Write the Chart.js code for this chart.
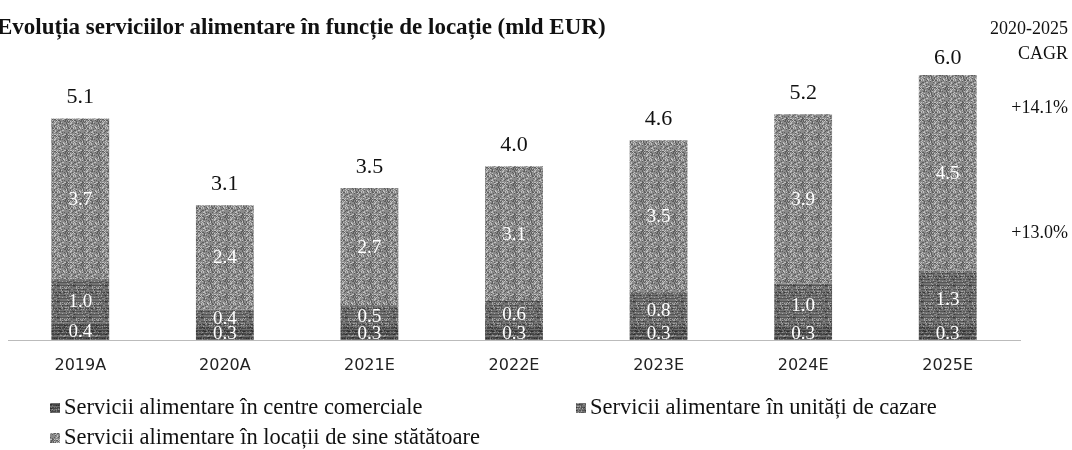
<!DOCTYPE html>
<html>
<head>
<meta charset="utf-8">
<script src="https://cdn.jsdelivr.net/npm/chart.js@4.4.1/dist/chart.umd.min.js"></script>
<style>
  body { margin: 0; background: #fff; }
  #wrap { position: relative; width: 1072px; height: 450px; overflow: hidden;
          font-family: "Liberation Serif", "Times New Roman", serif; color: #111; }
  #c { position: absolute; left: 0; top: 0; }
  .t { position: absolute; white-space: nowrap; line-height: 1; }
  #title { left: -3px; top: 15px; font-weight: bold; font-size: 23px; }
  .cagr { right: 4px; font-size: 18px; text-align: right; line-height: 25px; }
  .leg { font-size: 22.5px; }
  .mk { display: inline-block; width: 10px; height: 10px; margin-right: 4px; vertical-align: 1px; }
</style>
</head>
<body>
<div id="wrap">
  <canvas id="c" width="1072" height="450"></canvas>
  <div class="t" id="title">Evoluția serviciilor alimentare în funcție de locație (mld EUR)</div>
  <div class="t cagr" style="top:16px">2020-2025<br>CAGR</div>
  <div class="t cagr" style="top:95px">+14.1%</div>
  <div class="t cagr" style="top:220px">+13.0%</div>
  <div class="t leg" style="left:50px;top:396px"><span class="mk" id="mk0"></span>Servicii alimentare în centre comerciale</div>
  <div class="t leg" style="left:576px;top:396px"><span class="mk" id="mk1"></span>Servicii alimentare în unități de cazare</div>
  <div class="t leg" style="left:50px;top:426px"><span class="mk" id="mk2"></span>Servicii alimentare în locații de sine stătătoare</div>
</div>
<script>
// data
const years = ['2019A', '2020A', '2021E', '2022E', '2023E', '2024E', '2025E'];
const centreComerciale = [0.4, 0.3, 0.3, 0.3, 0.3, 0.3, 0.3];
const unitatiCazare = [1.0, 0.4, 0.5, 0.6, 0.8, 1.0, 1.3];
const sineStatatoare = [3.7, 2.4, 2.7, 3.1, 3.5, 3.9, 4.5];
const totals = [5.1, 3.1, 3.5, 4.0, 4.6, 5.2, 6.0];

// grey dithered textures, like the scanned original (fixed hash, no randomness)
function hash(x, y) {
  let h = (x * 374761393 + y * 668265263) | 0;
  h = (h ^ (h >>> 13)) * 1274126177 | 0;
  return ((h ^ (h >>> 16)) >>> 0) % 100;
}
function makeTile(kind) {
  const n = 16;
  const t = document.createElement('canvas');
  t.width = n; t.height = n;
  const g = t.getContext('2d');
  for (let y = 0; y < n; y++) {
    for (let x = 0; x < n; x++) {
      const r = hash(x + kind * 31, y + kind * 17);
      let v;
      if (kind == 0) {        // dark, grid-like
        v = (y % 3 == 0) ? 110 : 70;
        v += r < 20 ? 40 : (r > 85 ? -25 : 0);
      } else if (kind == 1) { // darker, line-like
        v = (y % 3 == 1) ? 85 : 115;
        v += r < 15 ? 50 : (r > 80 ? -30 : 0);
      } else {                // medium speckle
        v = 138 + (r < 18 ? 55 : (r > 78 ? -45 : 0));
      }
      g.fillStyle = 'rgb(' + v + ',' + v + ',' + v + ')';
      g.fillRect(x, y, 1, 1);
    }
  }
  return t;
}
const ctx = document.getElementById('c').getContext('2d');
const tiles = [makeTile(0), makeTile(1), makeTile(2)];
const fills = tiles.map(t => ctx.createPattern(t, 'repeat'));
tiles.forEach((t, i) => {
  document.getElementById('mk' + i).style.background = 'url(' + t.toDataURL() + ')';
});

const valueLabels = {
  id: 'valueLabels',
  afterDatasetsDraw(chart) {
    const c = chart.ctx;
    c.save();
    c.textAlign = 'center';
    c.textBaseline = 'middle';
    c.font = '19px "Liberation Serif"';
    c.fillStyle = '#fff';
    chart.data.datasets.forEach((ds, i) => {
      chart.getDatasetMeta(i).data.forEach((bar, j) => {
        c.fillText(ds.data[j].toFixed(1), bar.x, (bar.y + bar.base) / 2 + 1);
      });
    });
    c.fillStyle = '#111';
    c.font = '22px "Liberation Serif"';
    const ys = chart.scales.y;
    chart.getDatasetMeta(0).data.forEach((bar, j) => {
      c.fillText(totals[j].toFixed(1), bar.x, ys.getPixelForValue(totals[j]) - 21);
    });
    c.restore();
  }
};

new Chart(ctx, {
  type: 'bar',
  data: {
    labels: years,
    datasets: [
      { label: 'Servicii alimentare în centre comerciale', data: centreComerciale, backgroundColor: fills[0] },
      { label: 'Servicii alimentare în unități de cazare', data: unitatiCazare, backgroundColor: fills[1] },
      { label: 'Servicii alimentare în locații de sine stătătoare', data: sineStatatoare, backgroundColor: fills[2] }
    ]
  },
  options: {
    responsive: false,
    animation: false,
    layout: { padding: { left: 8, right: 52, top: 36, bottom: 70 } },
    datasets: { bar: { barPercentage: 0.4, categoryPercentage: 1 } },
    plugins: { legend: { display: false }, tooltip: { enabled: false } },
    scales: {
      x: {
        stacked: true,
        grid: { display: false, drawTicks: false },
        border: { display: true, color: '#bbb', dash: [2, 2] },
        ticks: { color: '#222', padding: 16, font: { family: 'DejaVu Sans', size: 16 } },
        afterFit(s) { s.height = 40; }
      },
      y: { stacked: true, display: false, min: 0, max: 7 }
    }
  },
  plugins: [valueLabels]
});
</script>
</body>
</html>
